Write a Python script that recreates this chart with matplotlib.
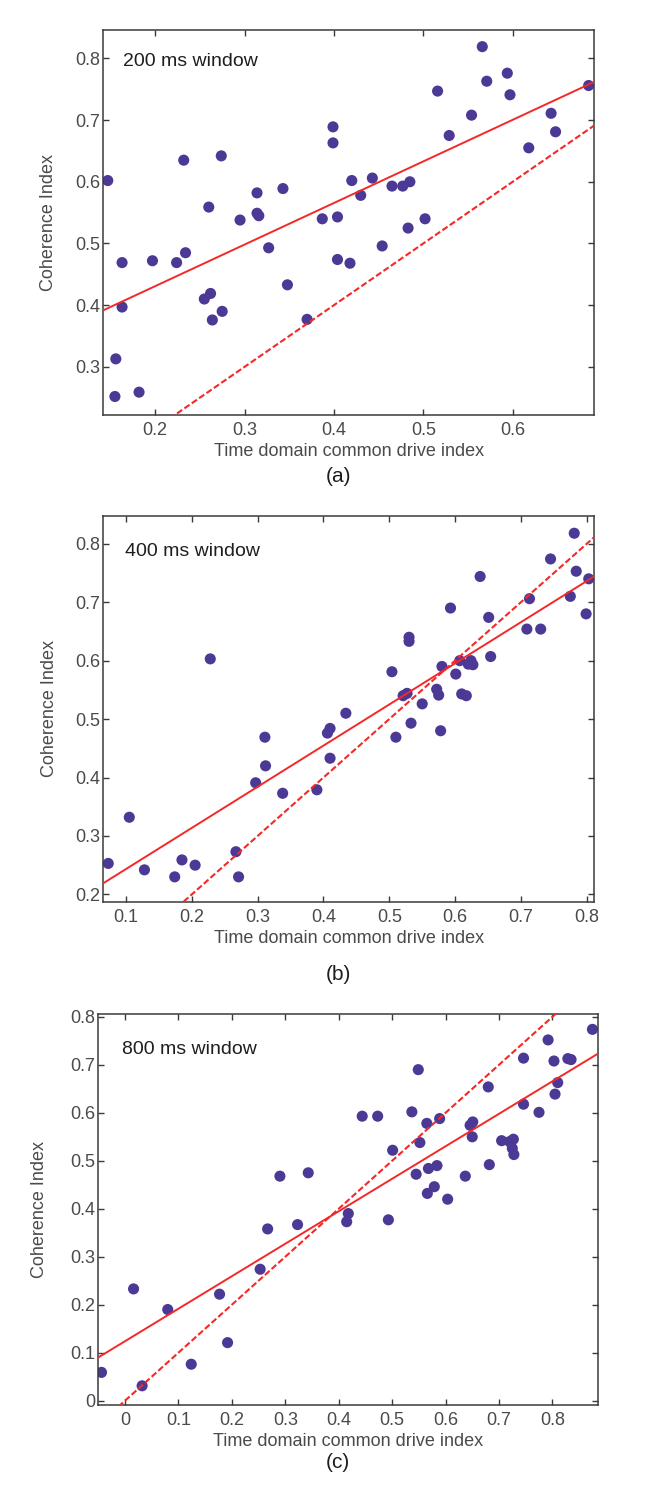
import numpy as np
import matplotlib
matplotlib.use("Agg")
import matplotlib.pyplot as plt

plt.rcParams['font.family'] = ['Liberation Sans', 'DejaVu Sans']

# ---------------- data ----------------
# panel (a) 200 ms window
a_x = [0.147, 0.155, 0.156, 0.163, 0.163, 0.182, 0.197, 0.224, 0.232, 0.234,
       0.255, 0.260, 0.262, 0.264, 0.274, 0.275, 0.295, 0.314, 0.314, 0.316,
       0.327, 0.343, 0.348, 0.370, 0.387, 0.399, 0.399, 0.404, 0.404, 0.418,
       0.420, 0.430, 0.443, 0.454, 0.465, 0.477, 0.483, 0.485, 0.502, 0.516,
       0.529, 0.554, 0.566, 0.571, 0.594, 0.597, 0.618, 0.643, 0.648, 0.685]
a_y = [0.602, 0.252, 0.313, 0.397, 0.469, 0.259, 0.472, 0.469, 0.635, 0.485,
       0.410, 0.559, 0.419, 0.376, 0.642, 0.390, 0.538, 0.582, 0.549, 0.545,
       0.493, 0.589, 0.433, 0.377, 0.540, 0.689, 0.663, 0.543, 0.474, 0.468,
       0.602, 0.578, 0.606, 0.496, 0.593, 0.593, 0.525, 0.600, 0.540, 0.747,
       0.675, 0.708, 0.819, 0.763, 0.776, 0.741, 0.655, 0.711, 0.681, 0.756]
a_fit = (0.674, 0.296)  # slope, intercept

# panel (b) 400 ms window
b_x = [0.073, 0.105, 0.128, 0.174, 0.185, 0.205, 0.228, 0.267, 0.271, 0.297,
       0.311, 0.312, 0.338, 0.390, 0.406, 0.410, 0.410, 0.434, 0.504, 0.510,
       0.521, 0.527, 0.530, 0.530, 0.533, 0.550, 0.572, 0.575, 0.578, 0.580,
       0.593, 0.601, 0.607, 0.610, 0.617, 0.620, 0.624, 0.627, 0.638, 0.651,
       0.654, 0.709, 0.713, 0.730, 0.745, 0.775, 0.781, 0.784, 0.799, 0.803]
b_y = [0.253, 0.332, 0.242, 0.230, 0.259, 0.250, 0.603, 0.273, 0.230, 0.391,
       0.469, 0.420, 0.373, 0.379, 0.476, 0.484, 0.433, 0.510, 0.581, 0.469,
       0.540, 0.544, 0.640, 0.633, 0.493, 0.526, 0.551, 0.541, 0.480, 0.590,
       0.690, 0.577, 0.600, 0.543, 0.540, 0.594, 0.600, 0.593, 0.744, 0.674,
       0.607, 0.654, 0.706, 0.654, 0.774, 0.710, 0.818, 0.753, 0.680, 0.740]
b_fit = (0.704, 0.173)

# panel (c) 800 ms window
c_x = [-0.044, 0.016, 0.032, 0.080, 0.124, 0.177, 0.192, 0.253, 0.267, 0.290,
       0.323, 0.343, 0.415, 0.418, 0.444, 0.473, 0.493, 0.501, 0.537, 0.545,
       0.549, 0.552, 0.565, 0.566, 0.568, 0.579, 0.584, 0.589, 0.604, 0.637,
       0.646, 0.650, 0.651, 0.680, 0.682, 0.705, 0.720, 0.725, 0.727, 0.728,
       0.746, 0.746, 0.775, 0.792, 0.803, 0.805, 0.810, 0.829, 0.835, 0.875]
c_y = [0.059, 0.233, 0.031, 0.190, 0.076, 0.222, 0.121, 0.274, 0.358, 0.468,
       0.367, 0.475, 0.373, 0.390, 0.593, 0.593, 0.377, 0.522, 0.602, 0.472,
       0.690, 0.538, 0.578, 0.432, 0.484, 0.446, 0.490, 0.588, 0.420, 0.468,
       0.574, 0.550, 0.581, 0.654, 0.492, 0.542, 0.540, 0.526, 0.545, 0.513,
       0.714, 0.618, 0.601, 0.752, 0.708, 0.639, 0.663, 0.713, 0.711, 0.774]
c_fit = (0.677, 0.124)

panels = [
    dict(x=a_x, y=a_y, fit=a_fit, title="200 ms window", tag="(a)",
         xlim=(0.142, 0.691), ylim=(0.222, 0.846),
         xt=[0.2, 0.3, 0.4, 0.5, 0.6], xtl=["0.2", "0.3", "0.4", "0.5", "0.6"],
         yt=[0.3, 0.4, 0.5, 0.6, 0.7, 0.8], ytl=["0.3", "0.4", "0.5", "0.6", "0.7", "0.8"]),
    dict(x=b_x, y=b_y, fit=b_fit, title="400 ms window", tag="(b)",
         xlim=(0.0655, 0.811), ylim=(0.1875, 0.848),
         xt=[0.1, 0.2, 0.3, 0.4, 0.5, 0.6, 0.7, 0.8],
         xtl=["0.1", "0.2", "0.3", "0.4", "0.5", "0.6", "0.7", "0.8"],
         yt=[0.2, 0.3, 0.4, 0.5, 0.6, 0.7, 0.8],
         ytl=["0.2", "0.3", "0.4", "0.5", "0.6", "0.7", "0.8"]),
    dict(x=c_x, y=c_y, fit=c_fit, title="800 ms window", tag="(c)",
         xlim=(-0.050, 0.886), ylim=(-0.009, 0.806),
         xt=[0, 0.1, 0.2, 0.3, 0.4, 0.5, 0.6, 0.7, 0.8],
         xtl=["0", "0.1", "0.2", "0.3", "0.4", "0.5", "0.6", "0.7", "0.8"],
         yt=[0, 0.1, 0.2, 0.3, 0.4, 0.5, 0.6, 0.7, 0.8],
         ytl=["0", "0.1", "0.2", "0.3", "0.4", "0.5", "0.6", "0.7", "0.8"]),
]

# ---------------- layout ----------------
W, H = 649, 1492
fig = plt.figure(figsize=(W / 100, H / 100), dpi=100)
fig.patch.set_facecolor('white')

boxes_px = [(103.3, 30, 594, 415), (103.3, 515.7, 594, 901.7), (98.3, 1014, 598.3, 1405)]
title_pos = [(0.040, 0.919), (0.044, 0.9085), (0.048, 0.910)]
ylab_x = [-0.094, -0.092, -0.1006]
tag_y = [476, 974, 1463]

dot_color = '#4b3995'
red = '#f52828'
spine_c = '#3a3a3a'
txt_c = '#4a4a4a'

for i, p in enumerate(panels):
    l, t, r, b = boxes_px[i]
    ax = fig.add_axes([l / W, 1 - b / H, (r - l) / W, (b - t) / H])
    ax.set_xlim(*p['xlim'])
    ax.set_ylim(*p['ylim'])

    xs = np.array(p['xlim'])
    m, c0 = p['fit']
    ax.plot(xs, m * xs + c0, color=red, lw=1.4, zorder=3)
    ax.plot(xs, xs, color=red, lw=1.5, ls=(0, (3.0, 1.3)), zorder=3)
    ax.scatter(p['x'], p['y'], s=64, color=dot_color, edgecolors='none', zorder=2)

    ax.set_xticks(p['xt'])
    ax.set_xticklabels(p['xtl'])
    ax.set_yticks(p['yt'])
    ax.set_yticklabels(p['ytl'])
    ax.tick_params(direction='in', length=4, width=1.0, colors=spine_c,
                   labelcolor=txt_c, labelsize=13, top=True, right=True)
    ax.tick_params(axis='x', pad=5)
    ax.tick_params(axis='y', pad=2)
    for s in ax.spines.values():
        s.set_color(spine_c)
        s.set_linewidth(1.1)

    ax.set_xlabel("Time domain common drive index", fontsize=13, color=txt_c, labelpad=3)
    ax.set_ylabel("Coherence Index", fontsize=13, color=txt_c)
    ax.yaxis.set_label_coords(ylab_x[i], 0.5)

    tx, ty = title_pos[i]
    ax.text(tx, ty, p['title'], transform=ax.transAxes, fontsize=14,
            color='#1e1e1e', ha='left', va='center')

    fig.text(338 / W, 1 - tag_y[i] / H, p['tag'], fontsize=15, color='#1e1e1e',
             ha='center', va='center')

fig.savefig("out.png", dpi=100, facecolor='white')
